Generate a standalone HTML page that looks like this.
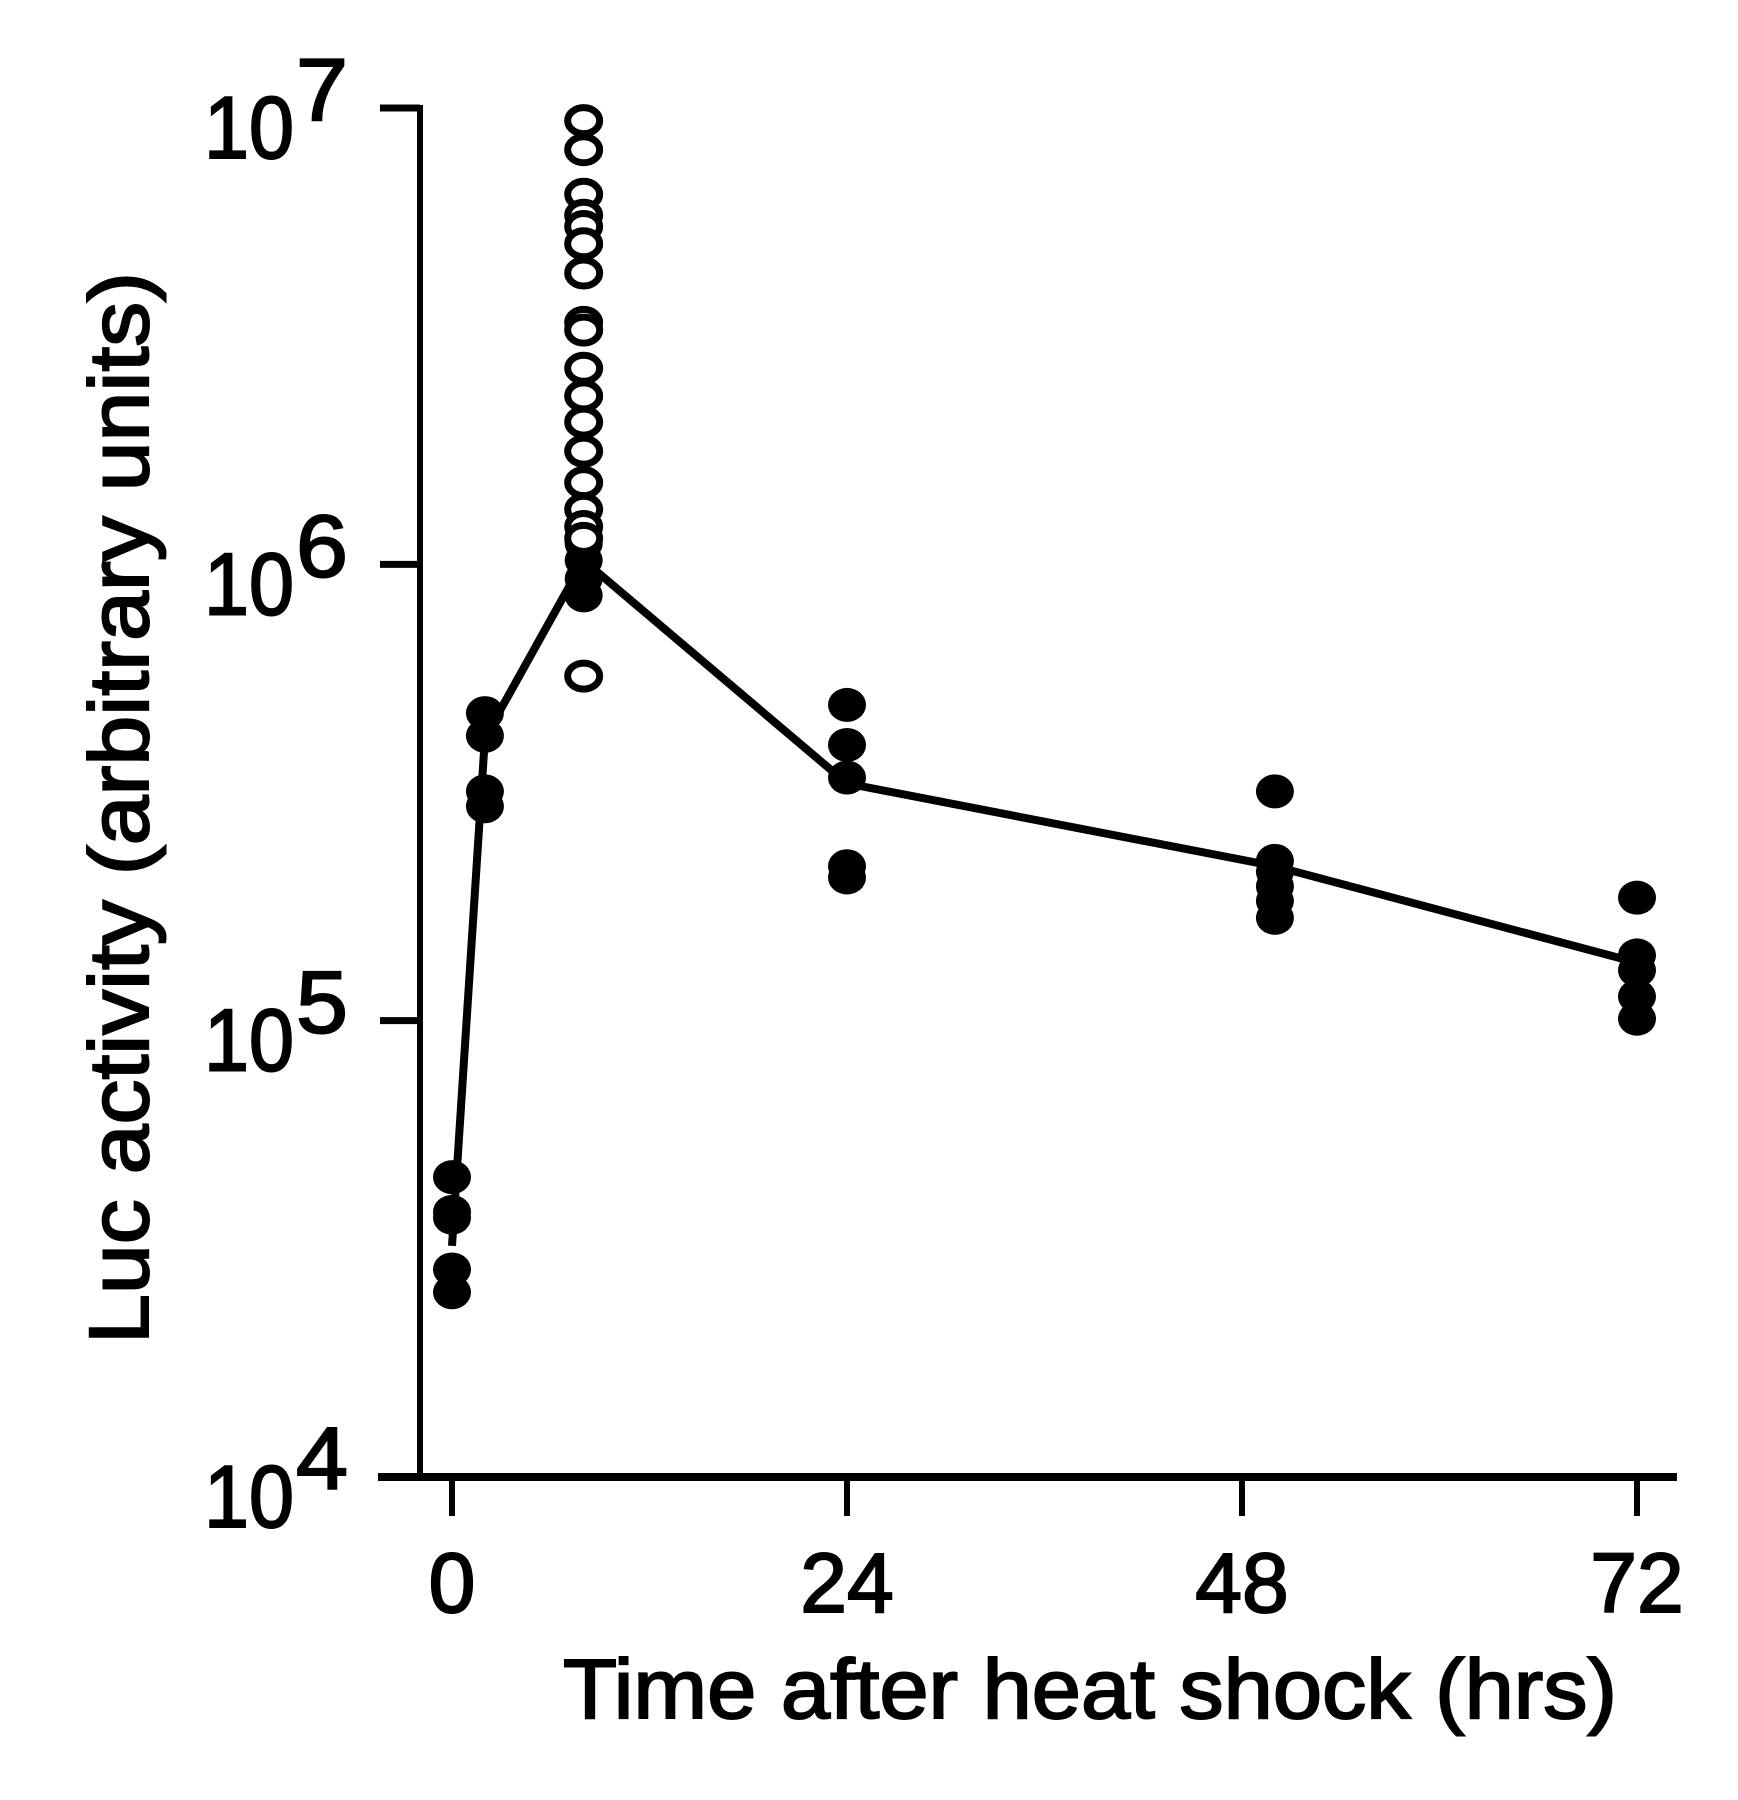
<!DOCTYPE html>
<html><head><meta charset="utf-8"><style>
html,body{margin:0;padding:0;background:#fff;}
svg{display:block;font-family:"Liberation Sans",Arial,sans-serif;}
svg text{stroke:#000;stroke-width:2;}
</style></head><body>
<svg id="chart" width="1738" height="1800" viewBox="0 0 1738 1800" xmlns="http://www.w3.org/2000/svg">
<g id="axes"></g>
<g id="marks"></g>
<text x="563" y="1718" font-size="84" textLength="1054" lengthAdjust="spacingAndGlyphs">Time after heat shock (hrs)</text>
<text transform="translate(148,1344) rotate(-90)" font-size="84" textLength="1072" lengthAdjust="spacingAndGlyphs">Luc activity (arbitrary units)</text>
</svg>
<script>
const xTicks = [0, 24, 48, 72];
const yExps = [4, 5, 6, 7];
const lineTimes = [0, 2, 8, 24, 50, 72];
const lineValues = [32100, 417000, 1020000, 331000, 218000, 134000];
const filledTimes = [0,0,0,0,0, 2,2,2,2, 8,8,8,8,8, 24,24,24,24,24, 50,50,50,50,50,50, 72,72,72,72,72];
const filledValues = [45400,38100,37000,28500,25400, 472000,421000,318000,295000, 1210000,1110000,1020000,930000,855000, 492000,402000,341000,218000,206000, 318000,224000,212000,197000,183000,168000, 186000,139000,129000,113000,101000];
const openTimes = [8,8,8,8,8,8,8,8,8,8,8,8,8,8,8,8,8,8];
const openValues = [9380000,8100000,6470000,5820000,5500000,5040000,4350000,3390000,3260000,2690000,2340000,2050000,1770000,1510000,1320000,1210000,1140000,569000];

const NS = "http://www.w3.org/2000/svg";
function xs(t){ return 452 + (t/72)*(1637-452); }
function ys(v){ return 1477 - (Math.log10(v)-4)*((1477-108)/3); }
function mk(tag, attrs, parent){
  const e = document.createElementNS(NS, tag);
  for (const k in attrs) e.setAttribute(k, attrs[k]);
  parent.appendChild(e); return e;
}
const axes = document.getElementById('axes');
const marks = document.getElementById('marks');

let yAxis = mk('line', {x1:420, y1:105, x2:420, y2:1477, stroke:'#000', 'stroke-width':6}, axes);


let xAxis = mk('line', {x1:378, y1:1477, x2:1677, y2:1477, stroke:'#000', 'stroke-width':8}, axes);



yExps.forEach(function(e){
  const y = ys(Math.pow(10, e));
  const tk = mk('line', {x1:380, y1:y, x2:420, y2:y, stroke:'#000', 'stroke-width':7}, axes);
  
  
  const lb = mk('text', {x:204, y:y+50, 'font-size':88, textLength:90, lengthAdjust:'spacingAndGlyphs'}, axes);
  lb.textContent = '10';
  
  
  const sp = mk('text', {x:296, y:y+12, 'font-size':88, textLength:52, lengthAdjust:'spacingAndGlyphs'}, axes);
  sp.textContent = String(e);
  
  
});

xTicks.forEach(function(t){
  const x = xs(t);
  const tk = mk('line', {x1:x, y1:1477, x2:x, y2:1516, stroke:'#000', 'stroke-width':6}, axes);
  
  
  const lb = mk('text', {x:x, y:1612, 'font-size':84, 'text-anchor':'middle'}, axes);
  lb.textContent = String(t);
  
  
});

const pts = lineTimes.map(function(t,i){ return xs(t)+','+ys(lineValues[i]); }).join(' ');
const pl = mk('polyline', {points:pts, fill:'none', stroke:'#000', 'stroke-width':8, 'stroke-linejoin':'miter'}, marks);



filledTimes.forEach(function(t,i){
  const c = mk('ellipse', {cx:xs(t), cy:ys(filledValues[i]), rx:19, ry:17, fill:'#000'}, marks);
  
  
});
openTimes.forEach(function(t,i){
  const c = mk('ellipse', {cx:xs(t), cy:ys(openValues[i]), rx:16, ry:13, fill:'#fff', stroke:'#000', 'stroke-width':7}, marks);
  
  
});
</script>
</body></html>
